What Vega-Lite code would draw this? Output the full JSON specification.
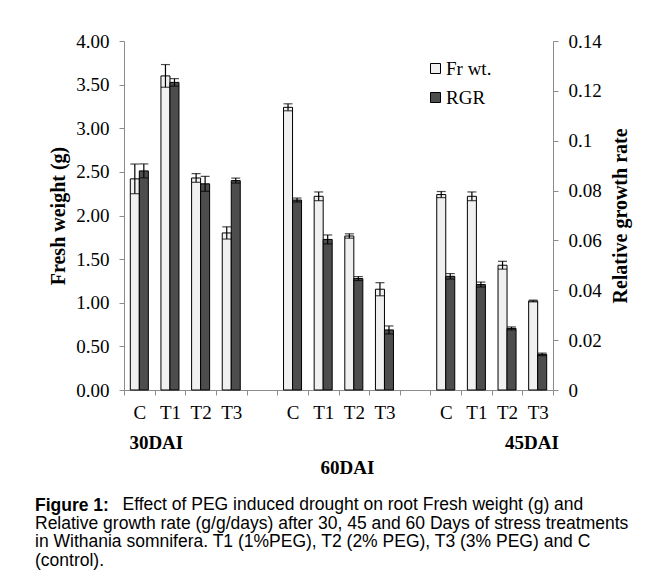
{
  "$schema": "https://vega.github.io/schema/vega-lite/v6.json",
  "width": 429,
  "height": 349,
  "autosize": {"type": "none"},
  "padding": {"left": 124, "top": 41, "right": 109, "bottom": 196},
  "background": "white",
  "config": {
    "view": {"stroke": null},
    "font": "Liberation Serif",
    "axis": {
      "labelFont": "Liberation Serif",
      "labelFontSize": 19,
      "labelColor": "black",
      "titleFont": "Liberation Serif",
      "titleColor": "black",
      "domainColor": "#8c8c8c",
      "tickColor": "#8c8c8c",
      "grid": false
    }
  },
  "title": {
    "text": "Figure 1:",
    "subtitle": [
      "\u200b\u00a0\u00a0\u00a0\u00a0\u00a0\u00a0\u00a0\u00a0\u00a0\u00a0\u00a0\u00a0\u00a0\u00a0\u00a0\u00a0\u00a0\u00a0Effect of PEG induced drought on root Fresh weight (g) and",
      "Relative growth rate (g/g/days) after 30, 45 and 60 Days of stress treatments",
      "in Withania somnifera. T1 (1%PEG), T2 (2% PEG), T3 (3% PEG) and C",
      "(control)."
    ],
    "orient": "bottom",
    "anchor": "start",
    "frame": "group",
    "dx": -89,
    "offset": 20,
    "font": "Liberation Sans",
    "fontSize": 17.5,
    "fontWeight": "bold",
    "color": "black",
    "lineHeight": 18.5,
    "subtitleFont": "Liberation Sans",
    "subtitleFontSize": 17.5,
    "subtitleColor": "black",
    "subtitleLineHeight": 18.5,
    "subtitlePadding": -18.5
  },
  "datasets": {
    "d": [
      {"slot": "C|30", "series": "Fr wt.", "value": 2.42, "lo": 2.25, "hi": 2.59},
      {"slot": "T1|30", "series": "Fr wt.", "value": 3.6, "lo": 3.47, "hi": 3.73},
      {"slot": "T2|30", "series": "Fr wt.", "value": 2.43, "lo": 2.38, "hi": 2.48},
      {"slot": "T3|30", "series": "Fr wt.", "value": 1.8, "lo": 1.73, "hi": 1.87},
      {"slot": "C|60", "series": "Fr wt.", "value": 3.24, "lo": 3.2, "hi": 3.28},
      {"slot": "T1|60", "series": "Fr wt.", "value": 2.22, "lo": 2.17, "hi": 2.27},
      {"slot": "T2|60", "series": "Fr wt.", "value": 1.765, "lo": 1.74, "hi": 1.79},
      {"slot": "T3|60", "series": "Fr wt.", "value": 1.155, "lo": 1.08, "hi": 1.23},
      {"slot": "C|45", "series": "Fr wt.", "value": 2.24, "lo": 2.205, "hi": 2.275},
      {"slot": "T1|45", "series": "Fr wt.", "value": 2.22, "lo": 2.17, "hi": 2.27},
      {"slot": "T2|45", "series": "Fr wt.", "value": 1.43, "lo": 1.385, "hi": 1.475},
      {"slot": "T3|45", "series": "Fr wt.", "value": 1.02, "lo": 1.01, "hi": 1.03},
      {"slot": "C|30", "series": "RGR", "value": 0.0879, "lo": 0.0851, "hi": 0.0907},
      {"slot": "T1|30", "series": "RGR", "value": 0.1234, "lo": 0.1219, "hi": 0.1249},
      {"slot": "T2|30", "series": "RGR", "value": 0.0827, "lo": 0.0797, "hi": 0.0857},
      {"slot": "T3|30", "series": "RGR", "value": 0.084, "lo": 0.083, "hi": 0.085},
      {"slot": "C|60", "series": "RGR", "value": 0.0762, "lo": 0.0754, "hi": 0.077},
      {"slot": "T1|60", "series": "RGR", "value": 0.0604, "lo": 0.0586, "hi": 0.0622},
      {"slot": "T2|60", "series": "RGR", "value": 0.0447, "lo": 0.0439, "hi": 0.0455},
      {"slot": "T3|60", "series": "RGR", "value": 0.0241, "lo": 0.0225, "hi": 0.0257},
      {"slot": "C|45", "series": "RGR", "value": 0.0456, "lo": 0.0445, "hi": 0.0467},
      {"slot": "T1|45", "series": "RGR", "value": 0.0423, "lo": 0.0413, "hi": 0.0433},
      {"slot": "T2|45", "series": "RGR", "value": 0.0247, "lo": 0.0241, "hi": 0.0253},
      {"slot": "T3|45", "series": "RGR", "value": 0.0143, "lo": 0.0138, "hi": 0.0148}
    ]
  },
  "data": {"name": "d"},
  "layer": [
    {
      "transform": [{"filter": "datum.series == 'Fr wt.'"}],
      "encoding": {
        "x": {
          "field": "slot",
          "type": "nominal",
          "sort": null,
          "scale": {
            "domain": ["C|30", "T1|30", "T2|30", "T3|30", "|g1", "C|60", "T1|60", "T2|60", "T3|60", "|g2", "C|45", "T1|45", "T2|45", "T3|45"],
            "paddingInner": 0,
            "paddingOuter": 0
          },
          "axis": {
            "orient": "bottom",
            "title": "60DAI",
            "titleFontWeight": "bold",
            "titleFontSize": 19,
            "titleX": 223,
            "titleY": 77,
            "titleBaseline": "middle",
            "labelExpr": "datum.value ? split(datum.value, '|')[0] : ''",
            "labelAngle": 0,
            "labelOverlap": false,
            "tickBand": "extent",
            "tickSize": 5,
            "labelPadding": 8
          }
        },
        "xOffset": {
          "field": "series",
          "type": "nominal",
          "scale": {"domain": ["Fr wt.", "RGR"], "paddingInner": 0, "paddingOuter": 0.7}
        },
        "y": {
          "field": "value",
          "type": "quantitative",
          "scale": {"domain": [0, 4], "nice": false, "zero": true},
          "axis": {
            "orient": "left",
            "title": "Fresh weight (g)",
            "titleFontSize": 20,
            "titleFontWeight": "bold",
            "titleAngle": 270,
            "titleX": -66,
            "titleBaseline": "middle",
            "values": [0, 0.5, 1, 1.5, 2, 2.5, 3, 3.5, 4],
            "format": ".2f",
            "tickSize": 5,
            "labelPadding": 10
          }
        }
      },
      "layer": [
        {
          "mark": {"type": "bar", "stroke": "black", "strokeWidth": 1},
          "encoding": {
            "fill": {
              "field": "series",
              "type": "nominal",
              "scale": {"domain": ["Fr wt.", "RGR"], "range": ["#f0f0f0", "#4d4d4d"]},
              "legend": {
                "title": null,
                "orient": "none",
                "legendX": 302,
                "legendY": 18,
                "symbolType": "square",
                "symbolSize": 100,
                "symbolStrokeColor": "black",
                "symbolStrokeWidth": 1,
                "labelFont": "Liberation Serif",
                "labelFontSize": 19,
                "labelColor": "black",
                "labelOffset": 1,
                "rowPadding": 9
              }
            }
          }
        },
        {
          "mark": {"type": "rule", "color": "black", "strokeWidth": 1.2},
          "encoding": {"y": {"field": "lo", "type": "quantitative"}, "y2": {"field": "hi"}}
        },
        {
          "mark": {"type": "tick", "color": "black", "thickness": 1.2, "size": 9},
          "encoding": {"y": {"field": "lo", "type": "quantitative"}}
        },
        {
          "mark": {"type": "tick", "color": "black", "thickness": 1.2, "size": 9},
          "encoding": {"y": {"field": "hi", "type": "quantitative"}}
        }
      ]
    },
    {
      "transform": [{"filter": "datum.series == 'RGR'"}],
      "encoding": {
        "x": {
          "field": "slot",
          "type": "nominal",
          "sort": null,
          "scale": {
            "domain": ["C|30", "T1|30", "T2|30", "T3|30", "|g1", "C|60", "T1|60", "T2|60", "T3|60", "|g2", "C|45", "T1|45", "T2|45", "T3|45"],
            "paddingInner": 0,
            "paddingOuter": 0
          },
          "axis": {
            "orient": "bottom",
            "title": null,
            "domain": false,
            "ticks": false,
            "tickSize": 0,
            "labelExpr": "datum.value == 'C|30' ? '30DAI' : (datum.value == 'T2|45' ? '45DAI' : '')",
            "labelFontWeight": "bold",
            "labelAngle": 0,
            "labelOverlap": false,
            "labelPadding": 43,
            "labelOffset": {"condition": {"test": "datum.value == 'C|30'", "value": 17}, "value": 25}
          }
        },
        "xOffset": {
          "field": "series",
          "type": "nominal",
          "scale": {"domain": ["Fr wt.", "RGR"], "paddingInner": 0, "paddingOuter": 0.7}
        },
        "y": {
          "field": "value",
          "type": "quantitative",
          "scale": {"domain": [0, 0.14], "nice": false, "zero": true},
          "axis": {
            "orient": "right",
            "title": "Relative growth rate",
            "titleFontSize": 20,
            "titleFontWeight": "bold",
            "titleAngle": 270,
            "titleX": 67,
            "titleBaseline": "middle",
            "values": [0, 0.02, 0.04, 0.06, 0.08, 0.1, 0.12, 0.14],
            "format": "~g",
            "tickSize": 5,
            "labelPadding": 10
          }
        }
      },
      "layer": [
        {
          "mark": {"type": "bar", "stroke": "black", "strokeWidth": 1},
          "encoding": {
            "fill": {"field": "series", "type": "nominal"}
          }
        },
        {
          "mark": {"type": "rule", "color": "black", "strokeWidth": 1.2},
          "encoding": {"y": {"field": "lo", "type": "quantitative"}, "y2": {"field": "hi"}}
        },
        {
          "mark": {"type": "tick", "color": "black", "thickness": 1.2, "size": 9},
          "encoding": {"y": {"field": "lo", "type": "quantitative"}}
        },
        {
          "mark": {"type": "tick", "color": "black", "thickness": 1.2, "size": 9},
          "encoding": {"y": {"field": "hi", "type": "quantitative"}}
        }
      ]
    }
  ],
  "resolve": {"scale": {"y": "independent"}, "axis": {"x": "independent"}}
}
